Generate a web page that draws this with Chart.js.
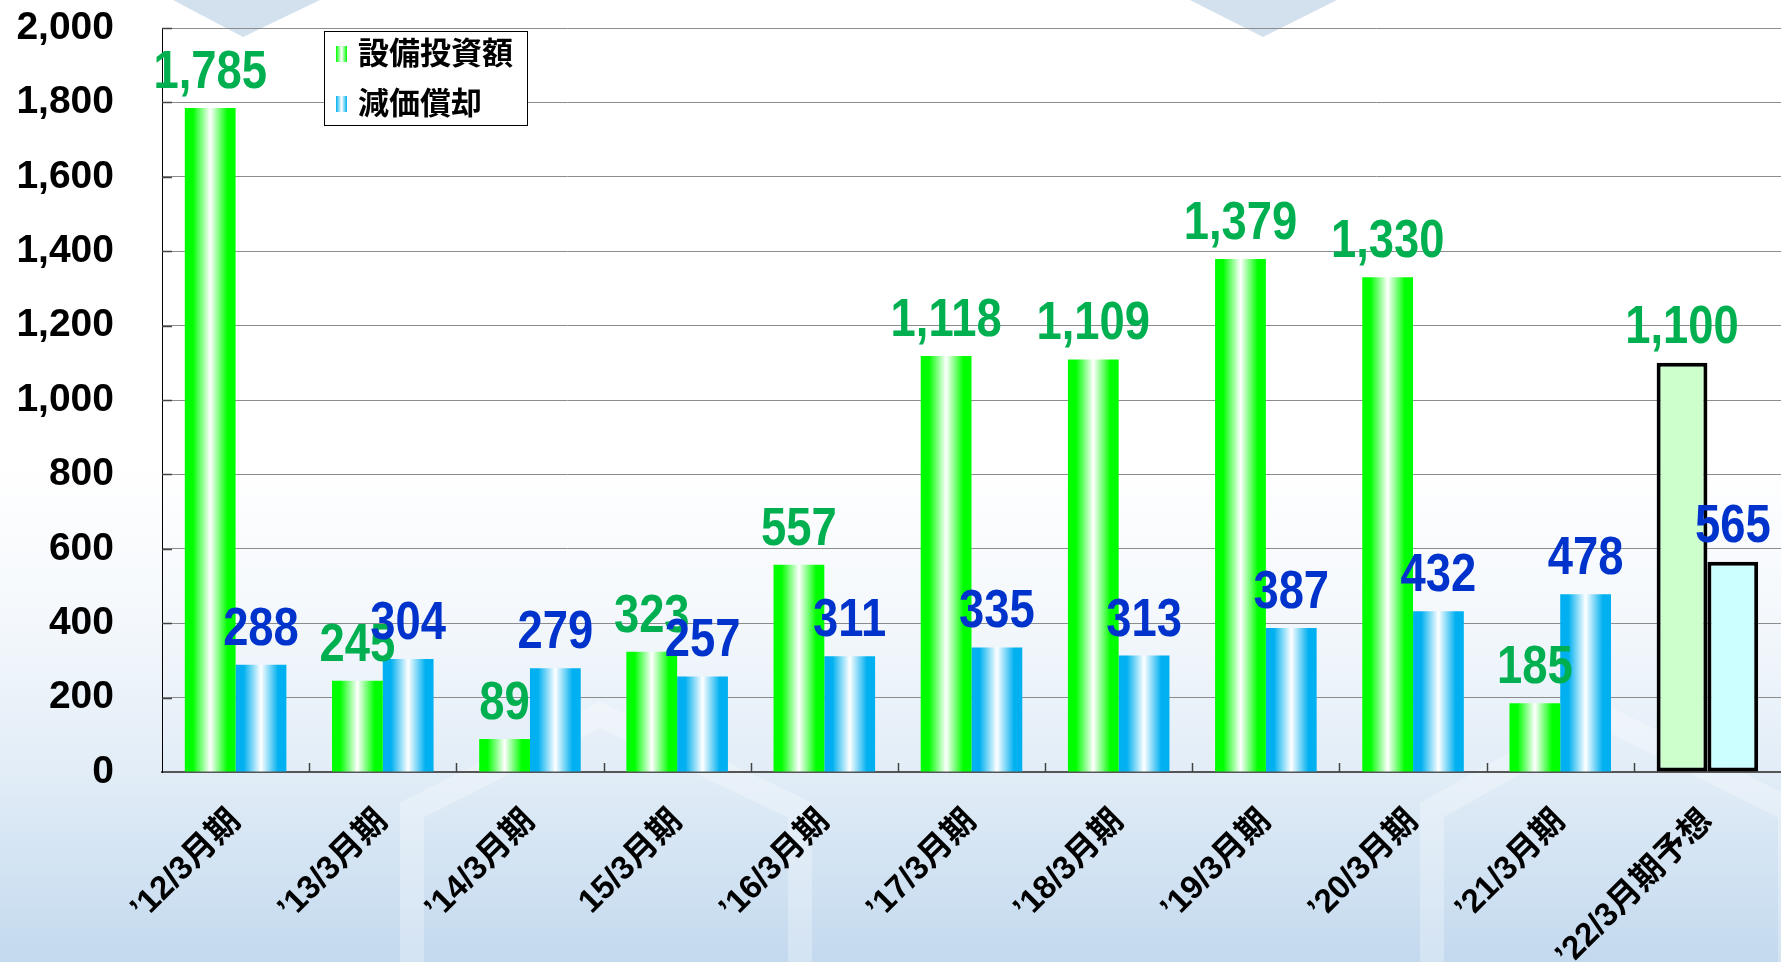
<!DOCTYPE html>
<html lang="ja">
<head>
<meta charset="utf-8">
<title>設備投資額・減価償却</title>
<script src="https://cdn.jsdelivr.net/npm/chart.js@4.4.1/dist/chart.umd.min.js"></script>
<style>
  html, body { margin: 0; padding: 0; background: #fff; }
  #wrap { width: 1781px; height: 962px; }
</style>
</head>
<body>
<div id="wrap"><canvas id="capexChart" width="1781" height="962"></canvas></div>
<script>
// 決算期（最後は予想）
const periods = ["’12/3月期", "’13/3月期", "’14/3月期", "15/3月期", "’16/3月期", "’17/3月期",
                 "’18/3月期", "’19/3月期", "’20/3月期", "’21/3月期", "’22/3月期予想"];
// 設備投資額
const capex = [1785, 245, 89, 323, 557, 1118, 1109, 1379, 1330, 185, 1100];
// 減価償却
const depreciation = [288, 304, 279, 257, 311, 335, 313, 387, 432, 478, 565];
// y axis
const yMin = 0, yMax = 2000, yStep = 200;

const CAT_PCT = 0.69;
const LATIN = "'Liberation Sans', Arial, sans-serif";
const JP = "'Liberation Sans', 'Noto Sans CJK JP', sans-serif";

const isForecast = i => periods[i].includes('予想');

// gradient across each bar, computed from the x scale
function barFill(edge, forecastFill) {
  return ctx => {
    const i = ctx.dataIndex;
    if (isForecast(i)) return forecastFill;
    const chart = ctx.chart;
    const x = chart.scales.x;
    if (!x || !chart.chartArea) return edge;
    const center = x.getPixelForValue(i);
    const bw = x.width / periods.length * CAT_PCT / 2;
    const x0 = ctx.datasetIndex === 0 ? center - bw : center;
    if (!isFinite(x0) || !isFinite(bw) || bw <= 0) return edge;
    const g = chart.ctx.createLinearGradient(x0, 0, x0 + bw, 0);
    g.addColorStop(0, edge);
    g.addColorStop(0.16, edge);
    g.addColorStop(0.5, '#ffffff');
    g.addColorStop(0.84, edge);
    g.addColorStop(1, edge);
    return g;
  };
}

// page background with faint watermark
const backdrop = {
  id: 'backdrop',
  beforeDraw(chart) {
    const { ctx, width, height } = chart;
    ctx.save();
    const g = ctx.createLinearGradient(0, 0, 0, height);
    g.addColorStop(0, '#ffffff');
    g.addColorStop(0.48, '#ffffff');
    g.addColorStop(0.64, '#f4f8fc');
    g.addColorStop(0.8, '#e2edf7');
    g.addColorStop(1, '#c3d9ee');
    ctx.fillStyle = g;
    ctx.fillRect(0, 0, width, height);
    // top chevrons
    ctx.fillStyle = '#d3e1ee';
    [[173, 320, 243], [1190, 1337, 1263]].forEach(([a, b, c]) => {
      ctx.beginPath();
      ctx.moveTo(a, 0); ctx.lineTo(b, 0); ctx.lineTo(c, 37); ctx.closePath(); ctx.fill();
    });
    // house outlines near the bottom
    ctx.strokeStyle = 'rgba(255,255,255,0.28)';
    ctx.lineWidth = 24;
    [[400, 600, 800], [1420, 1600, 1790]].forEach(([l, m, r]) => {
      ctx.beginPath();
      ctx.moveTo(l + 12, 980); ctx.lineTo(l + 12, 810); ctx.lineTo(m, 715);
      ctx.lineTo(r, 810); ctx.lineTo(r, 980);
      ctx.stroke();
    });
    ctx.restore();
  }
};

// small inner tick marks on both axes
const innerTicks = {
  id: 'innerTicks',
  afterDatasetsDraw(chart) {
    const { ctx, chartArea: a, scales: { x, y } } = chart;
    const cw = x.width / periods.length;
    ctx.save();
    ctx.strokeStyle = '#444';
    ctx.lineWidth = 1.5;
    ctx.beginPath();
    for (let i = 1; i < periods.length; i++) {
      const px = Math.round(x.getPixelForValue(i) - cw / 2) + 0.5;
      ctx.moveTo(px, a.bottom); ctx.lineTo(px, a.bottom - 9);
    }
    for (let v = yMin + yStep; v <= yMax; v += yStep) {
      const py = Math.round(y.getPixelForValue(v)) + 0.5;
      ctx.moveTo(a.left, py); ctx.lineTo(a.left + 10, py);
    }
    ctx.stroke();
    ctx.restore();
  }
};

// value labels above bars
const valueLabels = {
  id: 'valueLabels',
  afterDatasetsDraw(chart) {
    const { ctx } = chart;
    ctx.save();
    chart.data.datasets.forEach((ds, di) => {
      const meta = chart.getDatasetMeta(di);
      meta.data.forEach((bar, i) => {
        const txt = ds.data[i].toLocaleString('en-US');
        ctx.save();
        ctx.translate(bar.x, bar.y - 20);
        ctx.scale(0.84, 1);
        ctx.font = 'bold 54px ' + LATIN;
        ctx.fillStyle = ds.labelColor;
        ctx.textAlign = 'center';
        ctx.textBaseline = 'alphabetic';
        ctx.fillText(txt, 0, 0);
        ctx.restore();
      });
    });
    ctx.restore();
  }
};

// legend box inside the plot area
const legendBox = {
  id: 'legendBox',
  afterDraw(chart) {
    const { ctx, chartArea: a } = chart;
    const left = a.left + 162, top = a.top + 3, w = 203, h = 94;
    ctx.save();
    ctx.fillStyle = '#ffffff';
    ctx.fillRect(left, top, w, h);
    ctx.strokeStyle = '#000';
    ctx.lineWidth = 1;
    ctx.strokeRect(left + 0.5, top + 0.5, w, h);
    ctx.font = 'bold 31px ' + JP;
    ctx.textBaseline = 'middle';
    chart.data.datasets.forEach((ds, di) => {
      const cy = top + 23 + di * 50;
      const mx = left + 12;
      const g = ctx.createLinearGradient(mx, 0, mx + 11, 0);
      g.addColorStop(0, ds.edgeColor);
      g.addColorStop(0.5, '#ffffff');
      g.addColorStop(1, ds.edgeColor);
      ctx.fillStyle = g;
      ctx.fillRect(mx, cy - 8, 11, 16);
      ctx.fillStyle = '#000';
      ctx.fillText(ds.label, mx + 22, cy + 1);
    });
    ctx.restore();
  }
};

new Chart(document.getElementById('capexChart'), {
  type: 'bar',
  data: {
    labels: periods,
    datasets: [
      {
        label: '設備投資額',
        data: capex,
        edgeColor: '#00ff00',
        labelColor: '#00b050',
        backgroundColor: barFill('#00ff00', '#ccffcc'),
        borderColor: '#000',
        borderWidth: ctx => isForecast(ctx.dataIndex) ? 4 : 0,
        borderSkipped: false
      },
      {
        label: '減価償却',
        data: depreciation,
        edgeColor: '#00b0f0',
        labelColor: '#0033cc',
        backgroundColor: barFill('#00b0f0', '#ccffff'),
        borderColor: '#000',
        borderWidth: ctx => isForecast(ctx.dataIndex) ? 4 : 0,
        borderSkipped: false
      }
    ]
  },
  options: {
    responsive: false,
    animation: false,
    layout: { padding: { top: 28, right: 0, bottom: 0, left: 0 } },
    datasets: { bar: { categoryPercentage: CAT_PCT, barPercentage: 1.0 } },
    plugins: {
      legend: { display: false },
      tooltip: { enabled: false }
    },
    scales: {
      x: {
        grid: { display: false, drawTicks: false },
        border: { color: '#555', width: 2 },
        ticks: {
          color: '#000',
          autoSkip: false,
          minRotation: 45,
          maxRotation: 45,
          padding: 30,
          font: { family: JP, weight: 'bold', size: 33 }
        },
        afterFit: s => { s.height = 190; }
      },
      y: {
        min: yMin,
        max: yMax,
        grid: { color: '#8c8c8c', lineWidth: 1, drawTicks: true, tickLength: 48, tickColor: 'rgba(0,0,0,0)' },
        border: { color: '#000', width: 1 },
        ticks: {
          stepSize: yStep,
          color: '#000',
          padding: 0,
          font: { family: LATIN, weight: 'bold', size: 39 },
          callback: v => v.toLocaleString('en-US')
        },
        afterFit: s => { s.width = 162; }
      }
    }
  },
  plugins: [backdrop, innerTicks, valueLabels, legendBox]
});
</script>
</body>
</html>
